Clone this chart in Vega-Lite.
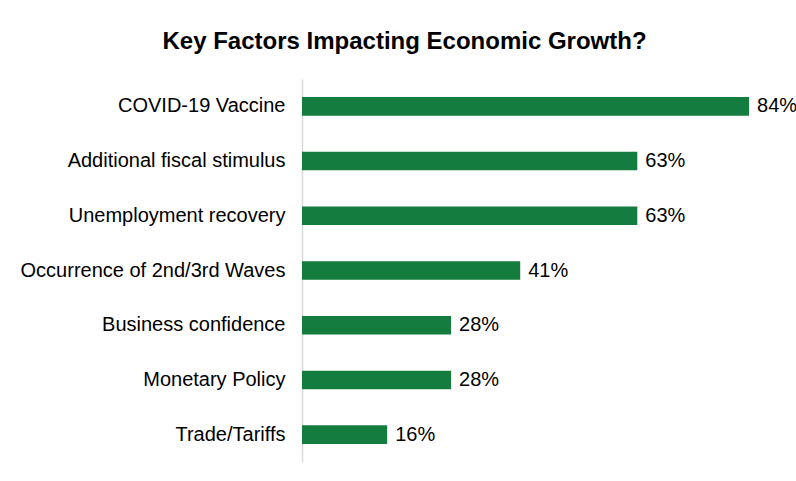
{
  "$schema": "https://vega.github.io/schema/vega-lite/v6.json",
  "width": 479,
  "height": 383,
  "autosize": {"type": "none"},
  "padding": {"left": 302, "top": 79, "right": 15, "bottom": 19},
  "background": "white",
  "title": {
    "text": "Key Factors Impacting Economic Growth?",
    "font": "Liberation Sans",
    "fontSize": 24,
    "fontWeight": "bold",
    "color": "#000000",
    "anchor": "middle",
    "dx": -137,
    "dy": 23,
    "offset": 29,
    "baseline": "alphabetic"
  },
  "data": {
    "values": [
      {"factor": "COVID-19 Vaccine", "pct": 0.84},
      {"factor": "Additional fiscal stimulus", "pct": 0.63},
      {"factor": "Unemployment recovery", "pct": 0.63},
      {"factor": "Occurrence of 2nd/3rd Waves", "pct": 0.41},
      {"factor": "Business confidence", "pct": 0.28},
      {"factor": "Monetary Policy", "pct": 0.28},
      {"factor": "Trade/Tariffs", "pct": 0.16}
    ]
  },
  "encoding": {
    "y": {
      "field": "factor",
      "type": "nominal",
      "sort": null,
      "scale": {"paddingInner": 0.66, "paddingOuter": 0.33},
      "axis": {
        "title": null,
        "ticks": false,
        "domainColor": "#d9d9d9",
        "domainWidth": 1.5,
        "labelFont": "Liberation Sans",
        "labelFontSize": 20,
        "labelColor": "#000000",
        "labelPadding": 17,
        "labelLimit": 400
      }
    },
    "x": {
      "field": "pct",
      "type": "quantitative",
      "scale": {"domain": [0, 0.9]},
      "axis": null
    }
  },
  "layer": [
    {"mark": {"type": "bar", "color": "#157c3f"}},
    {
      "mark": {
        "type": "text",
        "align": "left",
        "baseline": "middle",
        "dx": 8,
        "font": "Liberation Sans",
        "fontSize": 20,
        "color": "#000000"
      },
      "encoding": {"text": {"field": "pct", "type": "quantitative", "format": ".0%"}}
    }
  ],
  "config": {
    "view": {"stroke": null},
    "axis": {"grid": false}
  }
}
